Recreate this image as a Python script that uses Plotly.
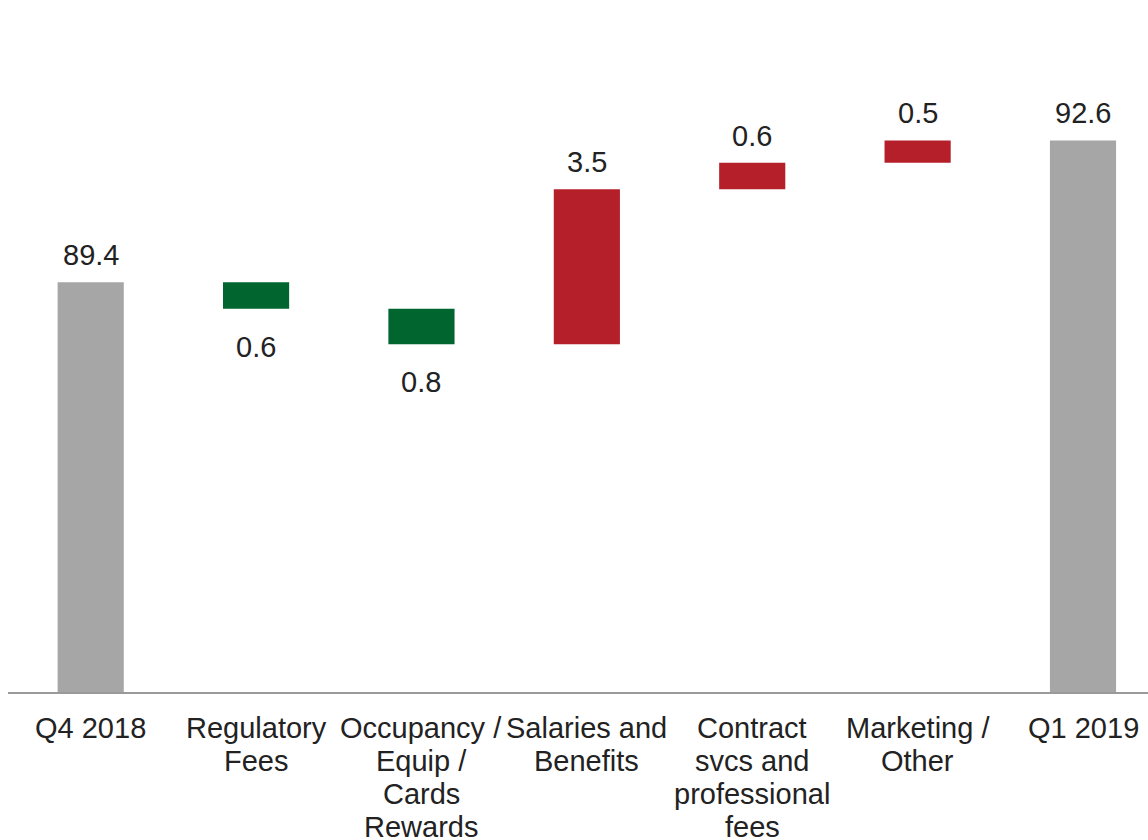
import plotly.graph_objects as go

categories = ["Q4 2018", "Regulatory<br>Fees", "Occupancy /<br>Equip /<br>Cards<br>Rewards",
              "Salaries and<br>Benefits", "Contract<br>svcs and<br>professional<br>fees",
              "Marketing /<br>Other", "Q1 2019"]
measures = ["absolute", "relative", "relative", "relative", "relative", "relative", "total"]
values = [89.4, -0.6, -0.8, 3.5, 0.6, 0.5, 92.6]

GRAY = "#A6A6A6"
GREEN = "#00652E"
RED = "#B41F2A"
TXT = "#222222"
FONT = "Liberation Sans, Arial, sans-serif"
FS = 29
LINE_GAP = 33.2

xs = list(range(len(categories)))

fig = go.Figure()
fig.add_trace(go.Waterfall(
    x=xs, y=[v if m != "total" else 0 for v, m in zip(values, measures)],
    measure=measures,
    increasing=dict(marker=dict(color=RED)),
    decreasing=dict(marker=dict(color=GREEN)),
    totals=dict(marker=dict(color=GRAY)),
    connector=dict(visible=False),
    width=[0.4] * len(xs),
    hoverinfo="skip",
    showlegend=False,
))

annotations = []
# value labels
running = 0.0
for i, (m, v) in enumerate(zip(measures, values)):
    if m == "absolute":
        running = v
        y, above = running, True
    elif m == "total":
        y, above = running, True
    else:
        running += v
        y, above = running, v >= 0
    annotations.append(dict(
        x=i, y=y, xref="x", yref="y", text=f"{abs(v if m != 'total' else running):.1f}",
        showarrow=False, yanchor="middle", yshift=27 if above else -38,
        font=dict(family=FONT, size=FS, color=TXT),
    ))

# category labels (one text line per annotation for tighter line spacing)
for i, cat in enumerate(categories):
    for j, line in enumerate(cat.split("<br>")):
        annotations.append(dict(
            x=i, y=0, xref="x", yref="paper", text=line, showarrow=False,
            yanchor="middle", yshift=-(35.5 + LINE_GAP * j),
            font=dict(family=FONT, size=FS, color=TXT),
        ))

fig.update_layout(
    width=1148, height=840,
    margin=dict(l=8, r=0, t=20, b=148),
    paper_bgcolor="white", plot_bgcolor="white",
    font=dict(family=FONT, size=FS, color=TXT),
    annotations=annotations,
    xaxis=dict(range=[-0.5, 6.393], tickvals=xs, showticklabels=False,
               showline=True, linecolor="#9A9A9A", linewidth=2,
               showgrid=False, zeroline=False, ticks=""),
    yaxis=dict(range=[80.15, 95.32], visible=False, showgrid=False, zeroline=False),
)

fig.write_html("out.html")
